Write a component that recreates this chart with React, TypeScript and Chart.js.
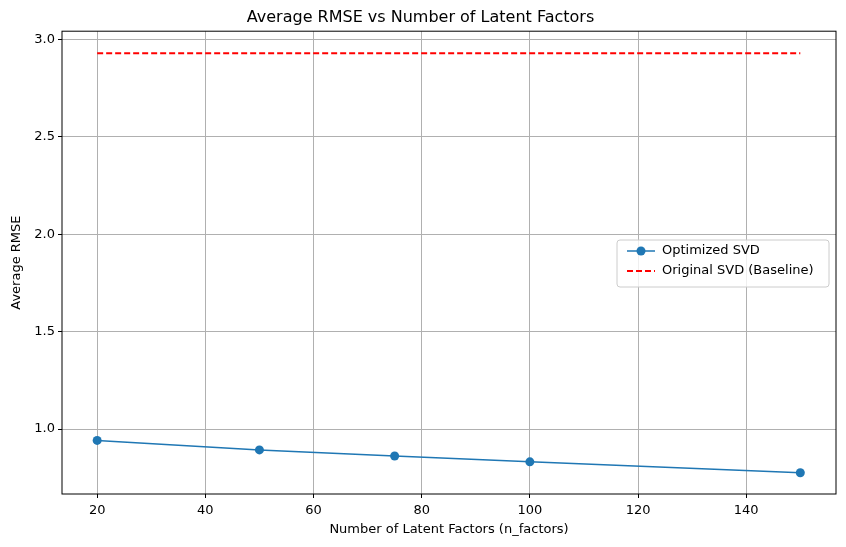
import { useEffect, useRef } from "react";
import { Chart, registerables } from "chart.js";

Chart.register(...registerables);

const factors = [20, 50, 75, 100, 150];
const optimizedRmse = [0.942, 0.893, 0.862, 0.832, 0.776];
const baselineRmse = 2.928;
const xTicks = [20, 40, 60, 80, 100, 120, 140];
const yTicks = [1.0, 1.5, 2.0, 2.5, 3.0];

const FONT = "'DejaVu Sans', sans-serif";

const framePlugin = {
  id: "frame",
  afterDraw(chart: any) {
    const { ctx, chartArea: a } = chart;
    ctx.save();
    ctx.strokeStyle = "#000";
    ctx.lineWidth = 1;
    ctx.strokeRect(a.left, a.top, a.right - a.left, a.bottom - a.top);
    // legend
    const x = 617, y = 240, w = 212, h = 47;
    ctx.fillStyle = "rgba(255,255,255,0.8)";
    ctx.strokeStyle = "#cccccc";
    ctx.beginPath();
    ctx.roundRect(x, y, w, h, 3);
    ctx.fill();
    ctx.stroke();
    ctx.font = `13px ${FONT}`;
    ctx.textBaseline = "middle";
    ctx.strokeStyle = "#1f77b4";
    ctx.lineWidth = 1.5;
    ctx.setLineDash([]);
    ctx.beginPath();
    ctx.moveTo(627, 251);
    ctx.lineTo(655, 251);
    ctx.stroke();
    ctx.fillStyle = "#1f77b4";
    ctx.beginPath();
    ctx.arc(641, 251, 4.5, 0, Math.PI * 2);
    ctx.fill();
    ctx.fillStyle = "#000";
    ctx.fillText("Optimized SVD", 662, 251);
    ctx.strokeStyle = "#ff0000";
    ctx.lineWidth = 2;
    ctx.setLineDash([6, 3]);
    ctx.beginPath();
    ctx.moveTo(627, 271);
    ctx.lineTo(655, 271);
    ctx.stroke();
    ctx.setLineDash([]);
    ctx.fillText("Original SVD (Baseline)", 662, 271);
    ctx.restore();
  },
};

export default function App() {
  const canvasRef = useRef<HTMLCanvasElement>(null);
  const chartRef = useRef<Chart | null>(null);

  useEffect(() => {
    if (!canvasRef.current) return;
    if (chartRef.current) chartRef.current.destroy();
    document.body.style.margin = "0";

    chartRef.current = new Chart(canvasRef.current, {
      type: "line",
      data: {
        datasets: [
          {
            label: "Optimized SVD",
            data: factors.map((f, i) => ({ x: f, y: optimizedRmse[i] })),
            borderColor: "#1f77b4",
            backgroundColor: "#1f77b4",
            borderWidth: 1.5,
            pointRadius: 4.5,
            pointBorderWidth: 0,
          },
          {
            label: "Original SVD (Baseline)",
            data: [
              { x: factors[0], y: baselineRmse },
              { x: factors[factors.length - 1], y: baselineRmse },
            ],
            borderColor: "#ff0000",
            borderWidth: 2,
            borderDash: [6, 3],
            pointRadius: 0,
          },
        ],
      },
      options: {
        animation: false,
        responsive: false,
        layout: { padding: { left: 5, right: 10, top: 0, bottom: 6 } },
        plugins: {
          legend: { display: false },
          tooltip: { enabled: false },
          title: {
            display: true,
            text: "Average RMSE vs Number of Latent Factors",
            color: "#000",
            font: { family: FONT, size: 16, weight: "normal" },
            padding: { top: 8, bottom: 4 },
          },
        },
        scales: {
          x: {
            type: "linear",
            min: 13.5,
            max: 156.6,
            afterBuildTicks: (s: any) => {
              s.ticks = xTicks.map((v) => ({ value: v }));
            },
            afterFit: (s: any) => {
              s.height = 47;
            },
            grid: { color: "#b0b0b0", tickColor: "#000", tickLength: 4 },
            border: { display: false },
            ticks: { color: "#000", font: { family: FONT, size: 13 }, padding: 5, maxRotation: 0 },
            title: {
              display: true,
              text: "Number of Latent Factors (n_factors)",
              color: "#000",
              font: { family: FONT, size: 13 },
              padding: { top: 0 },
            },
          },
          y: {
            type: "linear",
            min: 0.667,
            max: 3.041,
            afterBuildTicks: (s: any) => {
              s.ticks = yTicks.map((v) => ({ value: v }));
            },
            afterFit: (s: any) => {
              s.width = 57;
            },
            grid: { color: "#b0b0b0", tickColor: "#000", tickLength: 4 },
            border: { display: false },
            ticks: {
              color: "#000",
              font: { family: FONT, size: 13 },
              padding: 3,
              callback: (v: any) => Number(v).toFixed(1),
            },
            title: {
              display: true,
              text: "Average RMSE",
              color: "#000",
              font: { family: FONT, size: 13 },
              padding: { bottom: 4 },
            },
          },
        },
      },
      plugins: [framePlugin],
    } as any);

    return () => {
      if (chartRef.current) chartRef.current.destroy();
    };
  }, []);

  return (
    <div style={{ width: 846, height: 547, background: "#fff" }}>
      <canvas ref={canvasRef} width={846} height={547}></canvas>
    </div>
  );
}
